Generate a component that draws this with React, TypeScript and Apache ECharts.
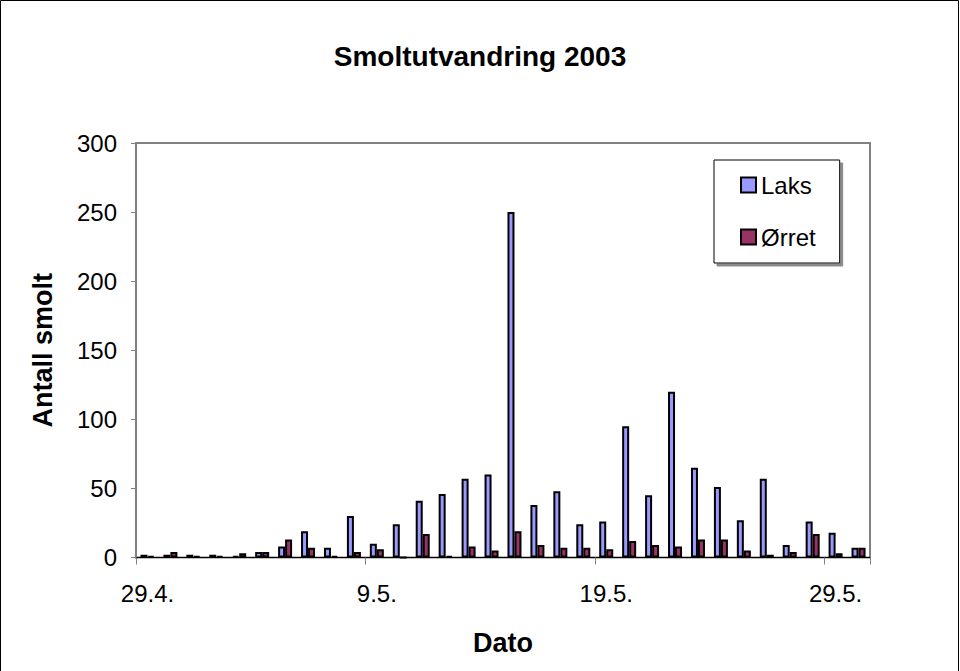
import React, { useEffect, useRef } from "react";
import * as echarts from "echarts";

const dates = [
  "29.4.", "30.4.", "1.5.", "2.5.", "3.5.", "4.5.", "5.5.", "6.5.", "7.5.", "8.5.",
  "9.5.", "10.5.", "11.5.", "12.5.", "13.5.", "14.5.", "15.5.", "16.5.", "17.5.", "18.5.",
  "19.5.", "20.5.", "21.5.", "22.5.", "23.5.", "24.5.", "25.5.", "26.5.", "27.5.", "28.5.",
  "29.5.", "30.5.",
];
const laks = [2, 2, 2, 2, 1, 4, 8, 19, 7, 30, 10, 24, 41, 46, 57, 60, 250, 38, 48, 24, 26, 95, 45, 120, 65, 51, 27, 57, 9, 26, 18, 7];
const orret = [1, 4, 1, 1, 3, 4, 13, 7, 1, 4, 6, 0, 17, 1, 8, 5, 19, 9, 7, 7, 6, 12, 9, 8, 13, 13, 5, 2, 4, 17, 3, 7];

const FONT = "'Liberation Sans', Arial, sans-serif";

export default function App() {
  const ref = useRef<HTMLDivElement>(null);

  useEffect(() => {
    if (!ref.current) return;
    const chart = echarts.init(ref.current, null, { renderer: "svg" });
    chart.setOption({
      animation: false,
      backgroundColor: "#ffffff",
      textStyle: { fontFamily: FONT, color: "#000" },
      title: {
        text: "Smoltutvandring 2003",
        left: "center",
        top: 42,
        padding: 0,
        textStyle: { fontFamily: FONT, fontSize: 28, fontWeight: "bold", color: "#000" },
      },
      legend: {
        left: 714,
        top: 160,
        orient: "vertical",
        padding: [12, 24, 13, 26],
        itemWidth: 15,
        itemHeight: 15,
        itemGap: 26,
        icon: "rect",
        backgroundColor: "#fff",
        borderColor: "#000",
        borderWidth: 1,
        borderRadius: 0,
        shadowColor: "#8a8a8a",
        shadowOffsetX: 3,
        shadowOffsetY: 3,
        shadowBlur: 0,
        textStyle: { fontFamily: FONT, fontSize: 24, lineHeight: 26, color: "#000" },
        itemStyle: { borderColor: "#000", borderWidth: 2 },
      },
      grid: {
        left: 136,
        right: 90,
        top: 143,
        bottom: 113.5,
        show: true,
        borderColor: "#808080",
        borderWidth: 2,
      },
      xAxis: {
        type: "category",
        data: dates,
        boundaryGap: true,
        name: "Dato",
        nameLocation: "middle",
        nameGap: 72,
        nameTextStyle: { fontFamily: FONT, fontSize: 27, fontWeight: "bold", color: "#000" },
        axisLine: { show: true, lineStyle: { color: "#000", width: 1 } },
        axisTick: {
          show: true,
          alignWithLabel: false,
          length: 7,
          interval: (i: number) => i % 10 === 0,
          lineStyle: { color: "#808080" },
        },
        axisLabel: {
          interval: (i: number) => i % 10 === 0,
          margin: 24,
          fontFamily: FONT,
          fontSize: 24,
          color: "#000",
        },
        splitLine: { show: false },
      },
      yAxis: {
        type: "value",
        min: 0,
        max: 300,
        interval: 50,
        name: "Antall smolt",
        nameLocation: "middle",
        nameRotate: 90,
        nameGap: 80,
        nameTextStyle: { fontFamily: FONT, fontSize: 27, fontWeight: "bold", color: "#000" },
        axisLine: { show: true, lineStyle: { color: "#808080", width: 2 } },
        axisTick: { show: true, length: 5, lineStyle: { color: "#808080" } },
        axisLabel: { margin: 19, fontFamily: FONT, fontSize: 24, color: "#000" },
        splitLine: { show: false },
      },
      series: [
        {
          name: "Laks",
          type: "bar",
          data: laks,
          barWidth: 7,
          barGap: "0%",
          itemStyle: { color: "#9999FF", borderColor: "#000", borderWidth: 2 },
        },
        {
          name: "Ørret",
          type: "bar",
          data: orret,
          barWidth: 7,
          barGap: "0%",
          itemStyle: { color: "#993366", borderColor: "#000", borderWidth: 2 },
        },
      ],
      graphic: [
        {
          type: "rect",
          silent: true,
          shape: { x: 0.5, y: 0.5, width: 958, height: 690 },
          style: { fill: "none", stroke: "#000", lineWidth: 1 },
          z: 100,
        },
      ],
    });
    return () => chart.dispose();
  }, []);

  return (
    <div
      ref={ref}
      style={{ position: "fixed", left: 0, top: 0, width: 960, height: 671 }}
    />
  );
}
